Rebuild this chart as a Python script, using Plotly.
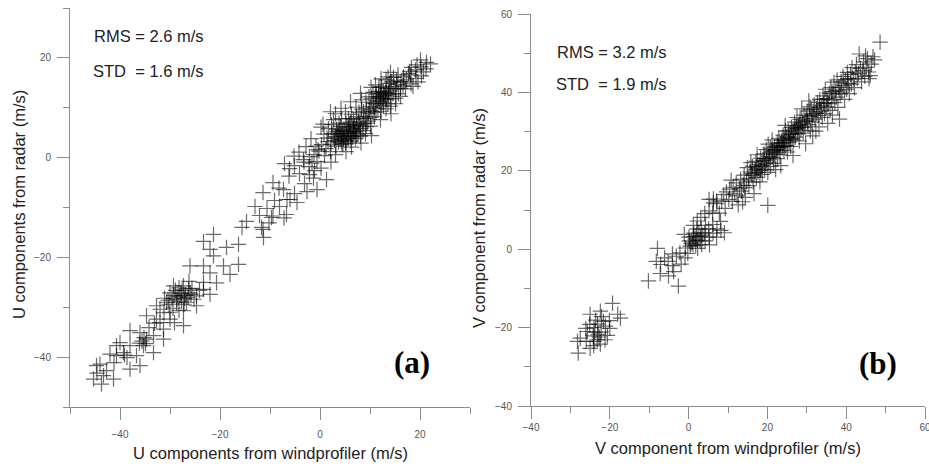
import plotly.graph_objects as go

# ---------------- Panel (a): U components (windprofiler, radar) ----------------
a_upper = [
    (0.3, 2.6), (0.8, 4.7), (1.2, 1.8), (1.4, 3.9), (1.7, 5.8), (2.2, 2.7), (2.4, 4.8), (-0.2, 1.3), (0.9, 0.4), (2.1, 1.2),
    (-0.8, 2.3), (0.6, 6.7), (2.7, 7.6), (1.6, 3.2), (2.3, 6.6),
    (3.2, 2.3), (3.1, 4.2), (3.3, 5.7), (3.7, 3.1), (3.6, 4.9), (4.2, 4.3), (4.1, 6.2), (4.3, 7.8), (2.8, 3.9), (3.4, 5.2),
    (4.4, 2.6), (3.1, 8.8), (4.6, 5.4), (4.0, 3.6), (3.8, 6.9),
    (5.1, 2.9), (5.3, 4.8), (5.2, 6.8), (5.6, 3.8), (5.7, 5.9), (6.2, 4.9), (6.1, 7.1), (6.3, 8.7), (4.8, 4.2), (4.7, 3.7),
    (6.2, 3.3), (5.1, 9.2), (6.6, 6.2), (5.4, 6.1), (6.1, 4.4), (5.7, 7.8),
    (7.1, 3.8), (7.2, 5.9), (7.3, 8.2), (7.6, 4.7), (7.7, 7.1), (8.1, 5.8), (8.2, 7.9), (8.3, 9.7), (6.7, 7.7), (7.0, 5.2),
    (8.1, 4.3), (7.2, 10.1), (8.6, 6.8), (6.6, 4.2), (7.8, 9.1),
    (9.2, 6.2), (9.1, 7.8), (9.3, 9.8), (9.6, 7.3), (9.7, 8.9), (10.2, 8.1), (10.1, 10.2), (10.3, 11.8), (8.7, 9.2), (9.2, 11.1),
    (10.1, 6.3), (9.1, 4.8), (10.6, 9.2), (8.3, 11.6), (9.8, 12.2),
    (11.2, 9.1), (11.1, 10.8), (11.3, 12.8), (11.6, 9.8), (11.7, 11.9), (12.2, 10.8), (12.1, 12.9), (12.3, 14.2), (10.7, 10.9),
    (11.2, 12.2), (12.2, 9.3), (11.1, 14.6), (12.6, 11.8), (10.6, 13.1), (11.8, 14.1),
    (13.2, 9.8), (13.1, 11.8), (13.3, 13.9), (13.6, 10.8), (13.7, 12.9), (14.2, 11.8), (14.1, 13.8), (14.3, 15.2), (12.7, 13.2),
    (13.1, 13.1), (14.1, 10.3), (13.2, 15.6), (14.6, 12.8), (12.7, 10.4), (13.6, 16.2),
    (15.2, 11.9), (15.1, 13.8), (15.3, 15.4), (15.7, 12.8), (16.1, 13.9), (16.2, 15.2), (14.7, 16.1), (16.1, 12.3), (15.1, 10.8),
    (16.6, 14.4), (15.6, 16.6),
    (17.1, 13.8), (17.3, 15.6), (18.2, 14.8), (18.1, 16.6), (19.2, 15.9), (19.1, 17.6), (20.2, 18.2), (20.1, 19.6), (21.2, 17.8),
    (21.3, 19.1), (17.7, 16.9), (18.6, 14.3), (19.6, 15.2), (20.3, 16.4), (16.7, 16.2), (18.3, 18.1), (22.1, 18.8), (20.7, 17.2),
    (3.1, 0.6), (5.2, 1.2), (6.3, 2.1), (8.2, 2.9), (10.3, 4.4), (12.1, 7.6), (14.2, 8.8), (-2.1, 0.2), (-0.6, -0.8), (2.2, -0.9),
    (-1.8, 3.8), (0.2, 6.1), (2.1, 9.2), (4.2, 9.9), (6.1, 11.2), (8.1, 12.9), (10.2, 14.1), (12.2, 15.8), (14.1, 17.1),
    (4.3, 3.2), (5.2, 3.4), (6.4, 4.1), (7.3, 4.4), (4.6, 2.8), (5.8, 5.1), (6.8, 5.2), (3.6, 4.6), (12.1, 12.2), (13.3, 11.6),
    (12.6, 11.1), (11.4, 11.4), (13.6, 12.6), (12.2, 12.6),
    (4.9, 5.3), (5.9, 6.6), (3.9, 5.5), (6.9, 6.4), (7.9, 6.5), (8.8, 8.3), (9.9, 9.4), (10.8, 10.1), (11.9, 11.3), (12.9, 12.4),
    (13.8, 13.4), (14.8, 14.3), (2.9, 3.4), (4.4, 4.8), (5.6, 4.4), (6.7, 5.6), (7.4, 6.6), (8.6, 5.4), (9.4, 6.9), (10.9, 8.2),
    (11.7, 13.3), (13.9, 14.9), (15.4, 14.7), (16.8, 15.2), (17.9, 17.3), (19.4, 18.6),
]
a_middle = [
    (-3.2, -0.9), (-7.1, -1.2), (-5.2, 0.3), (-2.2, -1.8), (-4.1, -3.2), (-6.2, -3.7), (-1.3, -4.1), (-3.1, -5.2), (-9.4, -5.0),
    (-8.2, -6.1), (-0.6, -6.4), (-5.1, -7.2), (-11.4, -7.0), (-6.6, -8.4), (-4.6, -9.0), (-8.1, -9.8), (-13.0, -9.8),
    (-9.4, -11.7), (-7.2, -12.1), (-14.7, -12.8), (-10.2, -13.1), (-15.6, -14.0), (-11.4, -14.4), (-2.1, -3.4), (-1.2, 0.6),
    (-4.2, 1.1), (-6.1, -2.2), (-2.6, -6.8), (0.2, -2.1), (-9.1, -8.6), (-10.6, -10.2), (-12.1, -11.6), (-7.3, -6.4),
    (-6.0, -8.4), (-6.7, -11.4), (1.3, -4.4), (-11.7, -14.0), (-11.3, -16.0), (-9.7, -12.0), (-3.3, -0.4), (-5.1, -1.6),
    (-1.6, -1.1), (-0.4, 1.6), (-2.8, 2.2), (-1.1, -2.6),
]
a_lower = [
    (-21.3, -15.4), (-23.3, -16.8), (-18.7, -18.0), (-16.3, -17.4), (-22.0, -18.4), (-21.3, -19.7), (-26.0, -21.7),
    (-23.3, -21.7), (-19.3, -21.7), (-16.3, -21.4), (-18.0, -23.4), (-22.0, -23.1), (-20.7, -25.1), (-23.3, -25.0),
    (-28.0, -27.7), (-30.0, -27.1), (-26.0, -27.1), (-28.7, -29.0), (-26.7, -29.0), (-24.7, -27.7), (-30.7, -29.0),
    (-29.3, -25.7), (-27.3, -25.7), (-32.0, -30.4), (-30.0, -31.0), (-27.3, -30.7), (-24.7, -29.7), (-23.3, -26.4),
    (-22.0, -27.4), (-27.1, -28.2), (-28.6, -28.4), (-29.2, -27.6), (-27.6, -26.6), (-26.4, -28.1), (-25.6, -26.2),
    (-29.4, -30.2), (-28.2, -30.6), (-25.2, -28.4), (-31.1, -28.2), (-26.2, -24.8), (-24.1, -26.6), (-28.2, -26.1),
    (-30.2, -29.4), (-34.7, -31.7), (-32.7, -32.4), (-27.3, -33.7), (-31.3, -34.4), (-38.0, -34.7), (-36.0, -35.1),
    (-34.7, -36.4), (-33.3, -35.7), (-40.0, -37.1), (-35.3, -37.7), (-39.3, -39.1), (-40.7, -39.7), (-42.0, -39.4),
    (-36.7, -39.7), (-33.3, -39.1), (-36.0, -41.7), (-38.0, -42.4), (-44.0, -41.4), (-44.7, -41.7), (-42.7, -42.7),
    (-43.3, -43.7), (-45.3, -44.4), (-43.7, -45.4), (-41.3, -44.4), (-31.3, -36.4), (-32.0, -33.1), (-30.0, -32.4),
    (-32.7, -29.7), (-38.0, -37.7), (-40.7, -37.7), (-35.2, -36.1), (-36.1, -37.2), (-34.2, -34.1), (-33.1, -33.2),
    (-39.1, -39.6), (-38.6, -40.1), (-41.2, -41.1), (-44.6, -43.2), (-29.1, -33.1), (-31.2, -31.1),
    (-27.8, -27.2), (-28.4, -27.9), (-26.9, -27.6), (-29.6, -28.3), (-27.2, -29.4), (-25.8, -27.4), (-28.9, -26.6),
    (-26.3, -26.3), (-30.4, -28.6), (-27.7, -28.8), (-35.6, -36.8), (-34.9, -37.3),
]

# ---------------- Panel (b): V components (windprofiler, radar) ----------------
b_upper = [
    (6.3, 12.8), (7.2, 11.6), (7.8, 9.2), (8.4, 12.3), (8.9, 13.9), (9.3, 10.4), (9.6, 14.6), (10.2, 12.7), (10.4, 15.3), (10.8, 17.6),
    (11.1, 12.2), (11.3, 15.8), (11.7, 14.1), (12.1, 16.9), (12.3, 13.6), (12.6, 11.3), (12.9, 15.4), (13.2, 17.8), (13.4, 14.8),
    (13.7, 12.1), (13.9, 16.3), (14.1, 18.9), (14.2, 15.7), (14.4, 13.2),
    (14.7, 17.4), (14.9, 20.8), (15.2, 18.1), (15.3, 16.2), (15.6, 19.7), (15.8, 22.1), (16.1, 18.8), (16.2, 21.2), (16.4, 17.1),
    (16.6, 14.2), (16.9, 20.3), (17.1, 22.4), (17.2, 18.3), (17.4, 24.1), (17.6, 19.6), (17.9, 21.6), (18.1, 17.2), (18.3, 23.2),
    (18.4, 20.4),
    (18.7, 19.1), (18.9, 22.6), (19.1, 24.3), (19.3, 20.2), (19.5, 21.8), (19.7, 25.4), (19.9, 23.1), (20.1, 19.6), (20.2, 26.8),
    (20.4, 22.2), (20.6, 24.6), (20.8, 21.1), (21.1, 25.3), (21.2, 27.9), (21.4, 23.4), (21.6, 21.9), (21.8, 26.1), (21.9, 24.2),
    (22.1, 20.3),
    (22.3, 25.4), (22.5, 27.1), (22.6, 23.1), (22.9, 28.3), (23.1, 25.9), (23.2, 24.1), (23.4, 21.3), (23.6, 27.2), (23.8, 26.1),
    (24.0, 29.1), (24.2, 25.2), (24.3, 27.8), (24.5, 31.6), (24.7, 26.4), (24.9, 28.6), (25.1, 24.8), (25.3, 30.2), (25.5, 27.3),
    (25.7, 29.4), (25.9, 26.2),
    (26.1, 31.1), (26.3, 28.2), (26.5, 23.9), (26.6, 29.9), (26.9, 32.4), (27.1, 28.6), (27.2, 30.8), (27.5, 33.6), (27.7, 29.5),
    (27.9, 31.6), (28.1, 27.6), (28.3, 33.1), (28.5, 30.4), (28.7, 35.8), (28.9, 32.2), (29.1, 29.6), (29.3, 34.2), (29.5, 31.2),
    (29.7, 26.9), (29.9, 33.4),
    (30.1, 35.2), (30.3, 31.8), (30.5, 37.8), (30.7, 33.9), (30.9, 30.2), (31.1, 35.6), (31.3, 32.4), (31.5, 28.9), (31.7, 34.6),
    (31.9, 36.8), (32.1, 33.2), (32.3, 30.1), (32.5, 35.8), (32.7, 37.4), (32.9, 34.1), (33.1, 31.2), (33.3, 38.2), (33.5, 35.1),
    (33.7, 36.6), (33.9, 33.6),
    (34.1, 39.1), (34.3, 37.2), (34.5, 34.6), (34.7, 40.8), (34.9, 36.3), (35.1, 38.4), (35.3, 32.1), (35.5, 37.1), (35.7, 39.8),
    (35.9, 35.4), (36.1, 41.2), (36.3, 38.1), (36.5, 34.2), (36.7, 39.6), (36.9, 42.6), (37.1, 37.4), (37.3, 40.4), (37.5, 38.8),
    (37.7, 43.2), (37.9, 36.2),
    (38.1, 41.3), (38.3, 33.2), (38.5, 39.6), (38.7, 42.7), (38.9, 40.1), (39.2, 44.1), (39.4, 41.8), (39.6, 38.2), (39.8, 43.2),
    (40.1, 40.8), (40.3, 45.1), (40.5, 42.3), (40.8, 39.7), (41.1, 44.6), (41.3, 42.1), (41.5, 46.3), (41.8, 43.4), (42.1, 41.2),
    (42.3, 45.2), (42.6, 47.1), (42.8, 43.6), (43.1, 44.8), (43.3, 49.8), (43.6, 46.1), (43.9, 42.7), (44.2, 45.6), (44.4, 47.8),
    (44.7, 44.1), (45.1, 46.4), (45.4, 48.6), (45.7, 45.2), (46.1, 44.3), (46.4, 47.2), (46.8, 49.1), (47.2, 48.3), (48.6, 52.8),
    (45.8, 43.5), (44.9, 49.3),
    (16.8, 19.4), (18.6, 21.3), (20.3, 23.6), (22.2, 24.6), (24.1, 27.1), (26.2, 29.3), (27.8, 30.9), (29.6, 32.8), (31.4, 34.2),
    (33.2, 36.2), (35.2, 37.3), (19.2, 23.1), (21.3, 24.9), (23.3, 26.9), (25.4, 28.6), (27.4, 31.4), (30.2, 32.6), (32.4, 34.7),
    (15.9, 19.2), (17.8, 20.7), (20.7, 25.8), (22.8, 26.4), (24.6, 30.2), (26.7, 27.8), (28.8, 31.1), (30.8, 36.3), (34.4, 38.3),
    (36.4, 40.2), (38.2, 40.6), (40.4, 43.5), (20.1, 11.2),
    (17.3, 21.1), (19.8, 22.7), (21.7, 25.2), (23.7, 27.8), (25.8, 28.1), (28.2, 31.9), (24.4, 26.3), (26.8, 30.6), (18.2, 20.1),
    (22.6, 26.1),
]
b_middle = [
    (-10.2, -8.1), (-7.9, 0.2), (-7.1, -3.9), (-7.2, -6.2), (-6.1, -2.2), (-5.2, -3.1), (-4.1, -4.2), (-3.8, -5.7), (-2.6, -9.4),
    (-3.1, -1.8), (-2.2, -0.9), (-1.9, -3.8), (-0.8, 0.3), (-0.9, -2.2), (0.2, 2.1), (0.4, 0.8), (-0.2, -1.1), (1.2, 3.2),
    (1.1, 1.1), (1.3, 4.1), (2.2, 2.3), (2.1, 5.2), (2.3, 0.2), (3.1, 3.2), (3.2, 5.1), (3.3, 1.2), (4.1, 4.2), (4.2, 2.1),
    (4.3, 6.1), (5.2, 3.1), (5.1, 5.2), (5.3, 1.1), (6.2, 4.1), (6.1, 6.3), (7.2, 5.2), (7.1, 3.1), (8.2, 4.8), (8.1, 7.1),
    (2.2, 7.2), (4.1, 9.1), (5.2, 9.8), (6.3, 11.8), (7.1, 12.3), (5.2, 12.7), (3.1, 8.1), (6.1, 9.2), (-1.1, 3.8), (1.2, 6.1),
    (-5.1, -6.8), (-8.2, -3.1), (-4.1, -1.2), (0.1, 3.1), (2.9, 2.1), (9.1, 4.2), (1.9, 3.4), (0.9, 1.8), (1.6, 2.6), (2.6, 4.1),
    (3.6, 3.6), (0.6, 1.4), (1.8, 0.9),
]
b_lower = [
    (-19.3, -13.8), (-18.0, -16.6), (-22.4, -15.8), (-25.0, -16.6), (-24.0, -20.0), (-21.6, -18.4), (-23.0, -21.7),
    (-25.7, -21.0), (-27.5, -22.7), (-28.2, -23.5), (-28.0, -26.5), (-25.0, -25.3), (-22.4, -24.2), (-20.0, -20.2),
    (-17.3, -17.6), (-20.6, -22.0), (-26.0, -23.5), (-24.0, -23.5), (-23.1, -19.1), (-22.2, -21.1), (-21.1, -19.6),
    (-24.2, -22.1), (-25.1, -19.2), (-23.2, -23.1), (-22.1, -17.2), (-26.1, -20.2), (-24.1, -24.6), (-21.2, -23.1),
    (-20.1, -18.2), (-23.6, -18.1), (-22.7, -22.4), (-23.8, -21.2),
]

a_stats = ["RMS = 2.6 m/s", "STD\u00a0 = 1.6 m/s"]
b_stats = ["RMS = 3.2 m/s", "STD\u00a0 = 1.9 m/s"]
a_ticks = [-40, -20, 0, 20]
b_ticks = [-40, -20, 0, 20, 40, 60]

W, H = 929, 468
SANS = "Liberation Sans, Arial, sans-serif"
AXC = "#8c8c8c"


def xs(pts):
    return [p[0] for p in pts]


def ys(pts):
    return [p[1] for p in pts]


marker = dict(symbol="cross-thin", size=11,
              line=dict(width=1.2, color="rgba(0,0,0,0.58)"))

fig = go.Figure()
a_all = a_upper + a_middle + a_lower
b_all = b_upper + b_middle + b_lower
fig.add_trace(go.Scatter(x=xs(a_all), y=ys(a_all), mode="markers", marker=marker,
                         xaxis="x", yaxis="y", showlegend=False))
fig.add_trace(go.Scatter(x=xs(b_all), y=ys(b_all), mode="markers", marker=marker,
                         xaxis="x2", yaxis="y2", showlegend=False))


def px(v):
    return v / W


def py(v):
    return 1 - v / H


def axis(domain, rng, ticks, anchor, standoff):
    return dict(domain=domain, range=rng, anchor=anchor, tickmode="array", tickvals=ticks,
                ticks="outside", ticklen=12, tickwidth=1, tickcolor=AXC, automargin=False,
                minor=dict(dtick=10, ticks="outside", ticklen=6, tickcolor=AXC, tickwidth=1),
                showline=True, linecolor=AXC, linewidth=1, showgrid=False, zeroline=False,
                ticklabeloverflow="allow",
                tickfont=dict(family=SANS, size=10, color="#555"), ticklabelstandoff=standoff)


fig.update_layout(
    width=W, height=H, margin=dict(l=0, r=0, t=0, b=0, autoexpand=False),
    paper_bgcolor="white", plot_bgcolor="white",
    xaxis=axis([px(70), px(470)], [-50, 30], a_ticks, "y", 6),
    yaxis=axis([py(407), py(8)], [-50, 30], a_ticks, "x", 4),
    xaxis2=axis([px(531), px(925)], [-40, 60], b_ticks, "y2", 0),
    yaxis2=axis([py(406), py(14)], [-40, 60], b_ticks, "x2", 4),
)

ann = []
tfont = dict(family=SANS, size=16.5, color="#222")
ann.append(dict(text="U components from windprofiler (m/s)", x=px(270), y=py(453), font=tfont))
ann.append(dict(text="U components from radar (m/s)", x=px(19), y=py(205), textangle=-90, font=tfont))
ann.append(dict(text="V component from windprofiler (m/s)", x=px(728), y=py(448), font=tfont))
ann.append(dict(text="V component from radar (m/s)", x=px(479), y=py(218), textangle=-90, font=tfont))
ann.append(dict(text=a_stats[0], x=px(92), y=py(36), xanchor="left", font=tfont))
ann.append(dict(text=a_stats[1], x=px(91), y=py(71), xanchor="left", font=tfont))
ann.append(dict(text=b_stats[0], x=px(555), y=py(52), xanchor="left", font=tfont))
ann.append(dict(text=b_stats[1], x=px(554), y=py(84), xanchor="left", font=tfont))
lfont = dict(family="Liberation Serif, Times New Roman, serif", size=31, color="black")
ann.append(dict(text="<b>(a)</b>", x=px(412), y=py(362), font=lfont))
ann.append(dict(text="<b>(b)</b>", x=px(878), y=py(363), font=lfont))
for a in ann:
    a.setdefault("xanchor", "center")
    a.update(xref="paper", yref="paper", showarrow=False, yanchor="middle")
fig.update_layout(annotations=ann)

fig.write_html("out.html", config={"displayModeBar": False},
               post_script="document.body.style.margin='0';document.body.style.overflow='hidden';")
